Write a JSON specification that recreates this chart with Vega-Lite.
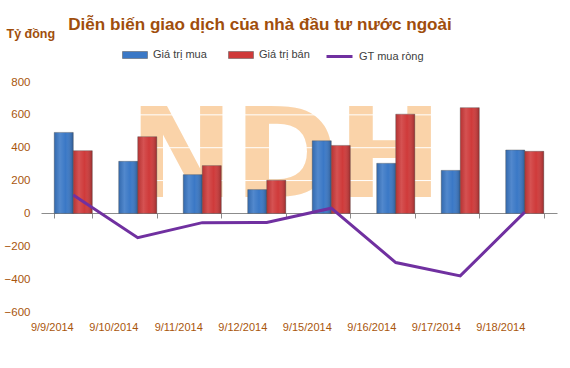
{
  "$schema": "https://vega.github.io/schema/vega-lite/v6.json",
  "width": 516,
  "height": 230,
  "autosize": {"type": "none"},
  "padding": {"left": 41, "top": 82, "right": 13, "bottom": 56},
  "background": "white",
  "title": {
    "text": "Diễn biến giao dịch của nhà đầu tư nước ngoài",
    "anchor": "middle",
    "frame": "group",
    "dx": -39,
    "font": "Liberation Sans",
    "fontSize": 17.1,
    "fontWeight": "bold",
    "color": "#A04E0C",
    "offset": -6
  },
  "config": {
    "view": {"stroke": null},
    "font": "Liberation Sans",
    "axis": {"labelFont": "Liberation Sans", "labelFontSize": 11.5, "labelColor": "#A9560C"},
    "legend": {"labelFont": "Liberation Sans", "labelFontSize": 11, "labelColor": "#404040", "direction": "horizontal", "orient": "none", "title": null}
  },
  "data": {
    "values": [
      {"date": "9/9/2014", "Giá trị mua": 493, "Giá trị bán": 382, "GT mua ròng": 112},
      {"date": "9/10/2014", "Giá trị mua": 317, "Giá trị bán": 467, "GT mua ròng": -148},
      {"date": "9/11/2014", "Giá trị mua": 236, "Giá trị bán": 291, "GT mua ròng": -56},
      {"date": "9/12/2014", "Giá trị mua": 145, "Giá trị bán": 202, "GT mua ròng": -55},
      {"date": "9/15/2014", "Giá trị mua": 442, "Giá trị bán": 414, "GT mua ròng": 32},
      {"date": "9/16/2014", "Giá trị mua": 305, "Giá trị bán": 604, "GT mua ròng": -299},
      {"date": "9/17/2014", "Giá trị mua": 262, "Giá trị bán": 644, "GT mua ròng": -380},
      {"date": "9/18/2014", "Giá trị mua": 386, "Giá trị bán": 378, "GT mua ròng": 8}
    ]
  },
  "layer": [
    {
      "data": {"values": [{"t": "NDH"}]},
      "mark": {"type": "text", "font": "DejaVu Sans", "fontWeight": "bold", "fontSize": 125, "baseline": "alphabetic", "align": "center", "color": "#F9C994", "opacity": 0.8},
      "encoding": {
        "x": {"datum": "9/12/2014", "bandPosition": 1, "type": "nominal"},
        "y": {"datum": 97, "type": "quantitative",
          "scale": {"domain": [-600, 800], "nice": false},
          "axis": {"tickCount": 8, "labelOverlap": false, "grid": false, "domain": false, "ticks": false, "labelPadding": 11,
            "title": "Tỷ đồng", "titleAngle": 0, "titleX": -35, "titleY": -49, "titleAlign": "left", "titleBaseline": "middle",
            "titleFont": "Liberation Sans", "titleFontSize": 12.5, "titleFontWeight": "bold", "titleColor": "#A04E0C"}},
        "text": {"field": "t"}
      }
    },
    {
      "data": {"values": [{"g": 200}, {"g": 400}, {"g": 600}, {"g": 800}]},
      "mark": {"type": "rule", "color": "white", "strokeWidth": 1},
      "encoding": {"y": {"field": "g", "type": "quantitative"}}
    },
    {
      "transform": [{"fold": ["Giá trị mua", "Giá trị bán"], "as": ["series", "value"]}],
      "mark": {"type": "bar", "stroke": "#5a5a5a", "strokeWidth": 0.6, "strokeOpacity": 0.7},
      "encoding": {
        "x": {
          "field": "date", "type": "nominal",
          "scale": {"domain": ["9/9/2014", "9/10/2014", "9/11/2014", "9/12/2014", "9/15/2014", "9/16/2014", "9/17/2014", "9/18/2014"], "paddingInner": 0.41, "paddingOuter": 0.205},
          "axis": {"title": null, "labelAngle": 0, "offset": -99, "labelPadding": 109, "tickBand": "extent", "tickSize": 5, "tickColor": "#8c8c8c", "domainColor": "#8c8c8c", "labelFontSize": 11}
        },
        "xOffset": {"field": "series", "type": "nominal", "scale": {"domain": ["Giá trị mua", "Giá trị bán"]}},
        "y": {"field": "value", "type": "quantitative"},
        "color": {
          "field": "series", "type": "nominal",
          "scale": {"domain": ["Giá trị mua", "Giá trị bán"], "range": ["#3A78C6", "#CF3A3A"]},
          "legend": {"legendX": 81, "legendY": -40, "symbolType": "M-1,-0.28H1V0.28H-1Z", "symbolSize": 625, "symbolStrokeColor": "#555", "symbolStrokeWidth": 0.5, "columnPadding": 20, "labelOffset": 5}
        }
      }
    },
    {
      "transform": [{"fold": ["Giá trị mua", "Giá trị bán"], "as": ["series", "value"]}],
      "mark": {"type": "bar", "strokeWidth": 0,
        "fill": {"gradient": "linear", "x1": 0, "x2": 1, "y1": 0, "y2": 0, "stops": [
          {"offset": 0, "color": "rgba(0,0,0,0.12)"},
          {"offset": 0.3, "color": "rgba(255,255,255,0.12)"},
          {"offset": 0.6, "color": "rgba(255,255,255,0)"},
          {"offset": 1, "color": "rgba(0,0,0,0.25)"}
        ]}},
      "encoding": {
        "x": {"field": "date", "type": "nominal"},
        "xOffset": {"field": "series", "type": "nominal"},
        "y": {"field": "value", "type": "quantitative"}
      }
    },
    {
      "mark": {"type": "line", "strokeWidth": 3},
      "encoding": {
        "x": {"field": "date", "type": "nominal"},
        "y": {"field": "GT mua ròng", "type": "quantitative"},
        "stroke": {
          "datum": "GT mua ròng",
          "scale": {"range": ["#7030A0"]},
          "legend": {"legendX": 284, "legendY": -40, "symbolType": "stroke", "symbolSize": 676, "symbolStrokeWidth": 3, "labelOffset": 5}
        }
      }
    }
  ]
}
